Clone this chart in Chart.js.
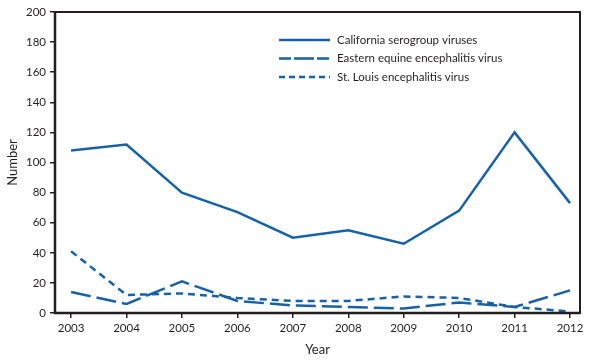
<!DOCTYPE html>
<html lang="en">
<head>
<meta charset="UTF-8">
<title>Arboviral disease cases, 2003-2012</title>
<script src="https://cdn.jsdelivr.net/npm/chart.js"></script>
<style>
    html, body { margin: 0; padding: 0; background: #fff; }
    #wrap { width: 597px; height: 361px; position: relative; }
</style>
</head>
<body>
<div id="wrap"><canvas id="chart" width="597" height="361"></canvas></div>
<script>
// Data
const years = [2003, 2004, 2005, 2006, 2007, 2008, 2009, 2010, 2011, 2012];
const california = [108, 112, 80, 67, 50, 55, 46, 68, 120, 73];
const easternEquine = [14, 6, 21, 8, 5, 4, 3, 7, 4, 15];
const stLouis = [41, 12, 13, 10, 8, 8, 11, 10, 4, 1];
const yTicks = [0, 20, 40, 60, 80, 100, 120, 140, 160, 180, 200];

const blue = '#1761a8';
const ink = '#231f20';
const font = 'Lato, "Liberation Sans", sans-serif';

const toPoints = vals => vals.map((v, i) => ({ x: years[i], y: v }));

// box around the plot + legend in the upper right
const framePlugin = {
    id: 'frame',
    afterDraw(chart) {
        const { ctx, chartArea: a } = chart;
        ctx.save();
        ctx.strokeStyle = ink;
        ctx.lineWidth = 2;
        ctx.strokeRect(a.left, a.top, a.right - a.left, a.bottom - a.top);
        // left and bottom axes a bit heavier
        ctx.lineWidth = 2.5;
        ctx.beginPath();
        ctx.moveTo(a.left, a.top);
        ctx.lineTo(a.left, a.bottom);
        ctx.lineTo(a.right, a.bottom);
        ctx.stroke();

        ctx.font = '11.5px ' + font;
        ctx.textBaseline = 'middle';
        ctx.fillStyle = ink;
        chart.data.datasets.forEach((ds, i) => {
            const y = 40 + i * 18.5;
            ctx.beginPath();
            ctx.setLineDash(ds.legendDash || []);
            ctx.strokeStyle = ds.borderColor;
            ctx.lineWidth = 2.5;
            ctx.moveTo(279, y);
            ctx.lineTo(330, y);
            ctx.stroke();
            ctx.setLineDash([]);
            ctx.fillText(ds.label, 337, y);
        });
        ctx.restore();
    }
};

new Chart(document.getElementById('chart'), {
    type: 'line',
    data: {
        datasets: [
            {
                label: 'California serogroup viruses',
                data: toPoints(california),
                borderColor: blue,
                borderWidth: 2.5,
                pointRadius: 0,
                legendDash: []
            },
            {
                label: 'Eastern equine encephalitis virus',
                data: toPoints(easternEquine),
                borderColor: blue,
                borderWidth: 2.5,
                borderDash: [20, 6],
                pointRadius: 0,
                legendDash: [12, 3, 20, 3]
            },
            {
                label: 'St. Louis encephalitis virus',
                data: toPoints(stLouis),
                borderColor: blue,
                borderWidth: 2.5,
                borderDash: [7, 5],
                pointRadius: 0,
                legendDash: [6, 4]
            }
        ]
    },
    options: {
        responsive: false,
        animation: false,
        layout: { padding: { top: 12, right: 17, left: 0, bottom: 0 } },
        plugins: { legend: { display: false }, tooltip: { enabled: false } },
        scales: {
            x: {
                type: 'linear',
                min: 2002.71,
                max: 2012.18,
                afterFit: s => { s.height = 48; },
                afterBuildTicks: s => { s.ticks = years.map(v => ({ value: v })); },
                border: { display: false },
                grid: { drawOnChartArea: false, tickLength: 5, color: ink, lineWidth: 1.5 },
                ticks: {
                    color: ink,
                    font: { family: font, size: 11.5 },
                    padding: 3,
                    maxRotation: 0,
                    callback: v => String(v)
                },
                title: {
                    display: true,
                    text: 'Year',
                    color: ink,
                    font: { family: font, size: 13 },
                    padding: { top: 0, bottom: 3 }
                }
            },
            y: {
                min: 0,
                max: 200,
                afterFit: s => { s.width = 55; },
                afterBuildTicks: s => { s.ticks = yTicks.map(v => ({ value: v })); },
                border: { display: false },
                grid: { drawOnChartArea: false, tickLength: 5, color: ink, lineWidth: 1.5 },
                ticks: {
                    color: ink,
                    font: { family: font, size: 11.5 },
                    padding: 4
                },
                title: {
                    display: true,
                    text: 'Number',
                    color: ink,
                    font: { family: font, size: 13 },
                    padding: { top: 5, bottom: 0 }
                }
            }
        }
    },
    plugins: [framePlugin]
});
</script>
</body>
</html>
